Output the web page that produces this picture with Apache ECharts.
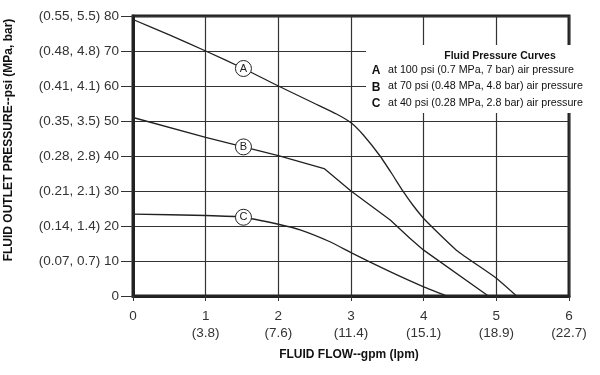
<!DOCTYPE html>
<html>
<head>
<meta charset="utf-8">
<script src="https://cdn.jsdelivr.net/npm/echarts@6/dist/echarts.min.js"></script>
<style>html,body{margin:0;padding:0;background:#fff}#c{width:600px;height:375px}</style>
</head>
<body>
<div id="c"></div>
<script>
// Data
const curveA = [[0,79],[0.5,74.6],[1,70],[1.52,65],[2,60],[2.5,55],[2.8,52],[3,49.5],[3.17,46],[3.4,40],[3.56,35],[3.72,29.8],[3.85,26],[4.02,21.7],[4.45,13.1],[5,5.1],[5.28,0]];
const curveB = [[0,51],[1,45.3],[1.52,42.6],[2,40.1],[2.63,36.4],[3,30],[3.54,21.7],[3.81,16.5],[4,13.1],[4.89,0]];
const curveC = [[0,23.4],[1,23],[1.52,22.5],[2,20.5],[2.3,18.9],[2.71,15.5],[3,12.4],[3.5,7.3],[4,2.6],[4.32,0]];
const curveLabels = [['A',1.52,65],['B',1.52,42.6],['C',1.52,22.5]];
const xGpm = ['0','1','2','3','4','5','6'];
const xLpm = ['','(3.8)','(7.6)','(11.4)','(15.1)','(18.9)','(22.7)'];
const yPsi = ['0','10','20','30','40','50','60','70','80'];
const yMpaBar = ['','(0.07, 0.7)','(0.14, 1.4)','(0.21, 2.1)','(0.28, 2.8)','(0.35, 3.5)','(0.41, 4.1)','(0.48, 4.8)','(0.55, 5.5)'];
const legendTitle = 'Fluid Pressure Curves';
const legendRows = [['A','at 100 psi (0.7 MPa, 7 bar) air pressure'],['B','at 70 psi (0.48 MPa, 4.8 bar) air pressure'],['C','at 40 psi (0.28 MPa, 2.8 bar) air pressure']];
const xTitle = 'FLUID FLOW--gpm (lpm)';
const yTitle = 'FLUID OUTLET PRESSURE--psi (MPa, bar)';

const FONT = "'Liberation Sans', Arial, sans-serif";
const chart = echarts.init(document.getElementById('c'), null, {renderer:'canvas'});
const lineSeries = (d, sm) => ({type:'line', data:d, symbol:'none', smooth:sm, z:3,
  lineStyle:{color:'#222', width:1.3}, animation:false});

const graphics = [
  {type:'rect', shape:{x:366, y:45, width:220, height:68}, style:{fill:'#fff'}, z:50},
  {type:'text', x:500, y:56, z:60, style:{text:legendTitle, font:"bold 10.5px "+FONT, fill:'#111', textAlign:'center', textVerticalAlign:'middle'}},
  {type:'text', x:9, y:140, rotation:Math.PI/2, z:60, style:{text:yTitle, font:"bold 12px "+FONT, fill:'#111', textAlign:'center', textVerticalAlign:'middle'}},
  {type:'text', x:349, y:355, z:60, style:{text:xTitle, font:"bold 12px "+FONT, fill:'#111', textAlign:'center', textVerticalAlign:'middle'}}
];
legendRows.forEach((r,i) => {
  const y = 71 + i*16.5;
  graphics.push({type:'text', x:376, y:y, z:60, style:{text:r[0], font:"bold 12px "+FONT, fill:'#111', textAlign:'center', textVerticalAlign:'middle'}});
  graphics.push({type:'text', x:388, y:y-1, z:60, style:{text:r[1], font:"10.7px "+FONT, fill:'#111', textAlign:'left', textVerticalAlign:'middle'}});
});

chart.setOption({
  animation:false,
  backgroundColor:'#fff',
  grid:{left:133, top:16, right:31, bottom:79, show:true, borderColor:'#222', borderWidth:3, backgroundColor:'transparent'},
  xAxis:{type:'value', min:0, max:6, interval:1,
    axisLine:{show:true, lineStyle:{color:'#222', width:3}},
    axisTick:{show:true, length:5, lineStyle:{color:'#333', width:1}},
    splitLine:{show:true, lineStyle:{color:'#333', width:1.2}},
    axisLabel:{margin:12, color:'#333', fontSize:13.5, fontFamily:FONT, lineHeight:17,
      formatter:(v) => { const i = Math.round(v); return xLpm[i] ? xGpm[i] + '\n' + xLpm[i] : xGpm[i]; }}},
  yAxis:{type:'value', min:0, max:80, interval:10,
    axisLine:{show:true, lineStyle:{color:'#222', width:3}},
    axisTick:{show:true, length:12, lineStyle:{color:'#333', width:1}},
    splitLine:{show:true, lineStyle:{color:'#333', width:1.2}},
    axisLabel:{margin:14, color:'#333', fontSize:13.5, fontFamily:FONT,
      formatter:(v) => { const i = Math.round(v/10); return (yMpaBar[i] ? yMpaBar[i] + ' ' : '') + yPsi[i]; }}},
  series:[
    lineSeries(curveA, 0.15), lineSeries(curveB, false), lineSeries(curveC, 0.15),
    {type:'scatter', z:5, symbol:'circle', symbolSize:16,
      data:curveLabels.map(c => ({value:[c[1],c[2]], name:c[0]})),
      itemStyle:{color:'#fff', borderColor:'#222', borderWidth:1, opacity:1},
      label:{show:true, position:'inside', formatter:'{b}', color:'#222', fontSize:11, fontFamily:FONT}}
  ],
  graphic:graphics
});
</script>
</body>
</html>
